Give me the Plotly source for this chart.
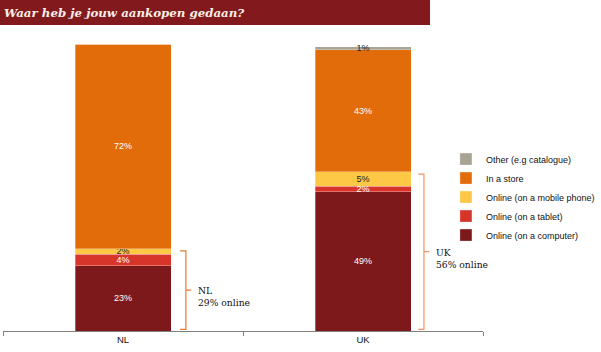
import plotly.graph_objects as go

categories = ["NL", "UK"]
series_names = ["Online (on a computer)", "Online (on a tablet)", "Online (on a mobile phone)", "In a store", "Other (e.g catalogue)"]
computer = [23, 49]
tablet = [4, 2]
mobile = [2, 5]
store = [72, 43]
other = [0, 1]
online_flags = [True, True, True, False, False]

colors = ["#7e191b", "#d8352a", "#fdc845", "#e36c0a", "#a8a393"]
text_colors = ["white", "white", "#222222", "white", "#222222"]
all_series = [computer, tablet, mobile, store, other]

fig = go.Figure()
for name, vals, col, tcol in zip(series_names, all_series, colors, text_colors):
    fig.add_trace(go.Bar(
        x=categories, y=vals, name=name,
        marker=dict(color=col, line=dict(color="rgba(255,255,255,0.6)", width=0.5)),
        width=0.4,
        text=[f"{v}%" if v > 0 else "" for v in vals],
        textposition="inside", insidetextanchor="middle", textangle=0,
        textfont=dict(family="Liberation Sans, Arial", size=9, color=tcol),
        cliponaxis=False,
    ))

# online totals and braces
online_totals = [sum(s[i] for s, f in zip(all_series, online_flags) if f) for i in range(len(categories))]
brace_x = [0.381, 0.877]          # paper x of brace spine
brace_colors = ["#e67a36", "#ef9565"]
shapes = []
annotations = []
for i, cat in enumerate(categories):
    top = online_totals[i] - 0.8
    bot = 0.6
    mid = (top + bot) / 2
    xs = brace_x[i]
    path = (f"M {xs-0.012},{top} L {xs},{top} L {xs},{bot} L {xs-0.012},{bot} "
            f"M {xs},{mid} L {xs+0.011},{mid}")
    shapes.append(dict(type="path", xref="paper", yref="y", path=path,
                       line=dict(color=brace_colors[i], width=1.2)))
    annotations.append(dict(xref="paper", yref="y", x=xs + 0.021, y=mid,
                            xanchor="left", yanchor="top", yshift=7,
                            text=f"{cat}<br>{online_totals[i]}% online", showarrow=False, align="left",
                            font=dict(family="DejaVu Serif", size=9.2, color="#111111")))

# title bar
shapes.append(dict(type="rect", xref="paper", yref="paper", x0=-0.00625, x1=0.8896,
                   y0=1.066, y1=1.155, fillcolor="#821a1d", line=dict(width=0), layer="above"))
annotations.append(dict(xref="paper", yref="paper", x=-0.002, y=1.109, xanchor="left", yanchor="middle",
                        text="Waar heb je jouw aankopen gedaan?", showarrow=False,
                        font=dict(family="DejaVu Serif", size=11.8, color="#f7efe6",
                                  weight="bold", style="italic")))

fig.update_layout(
    width=601, height=352,
    margin=dict(l=3, r=118, t=44, b=21, autoexpand=False),
    barmode="stack",
    bargap=0.6,
    plot_bgcolor="white", paper_bgcolor="white",
    uniformtext=dict(mode="show", minsize=9),
    showlegend=True,
    legend=dict(xref="container", yref="container", x=0.742, y=0.44, xanchor="left", yanchor="middle",
                traceorder="reversed",
                font=dict(family="Liberation Sans, Arial", size=9, color="#111111"),
                bgcolor="rgba(0,0,0,0)", itemwidth=30),
    xaxis=dict(type="category", tickson="boundaries", ticks="outside", ticklen=4,
               tickcolor="#808080", showline=True, linecolor="#808080", linewidth=1,
               tickfont=dict(family="Liberation Sans, Arial", size=9.5, color="#111111"),
               showgrid=False, range=[-0.5, 1.5]),
    yaxis=dict(visible=False, range=[0, 101]),
    shapes=shapes,
    annotations=annotations,
)

fig.write_html("out.html")
